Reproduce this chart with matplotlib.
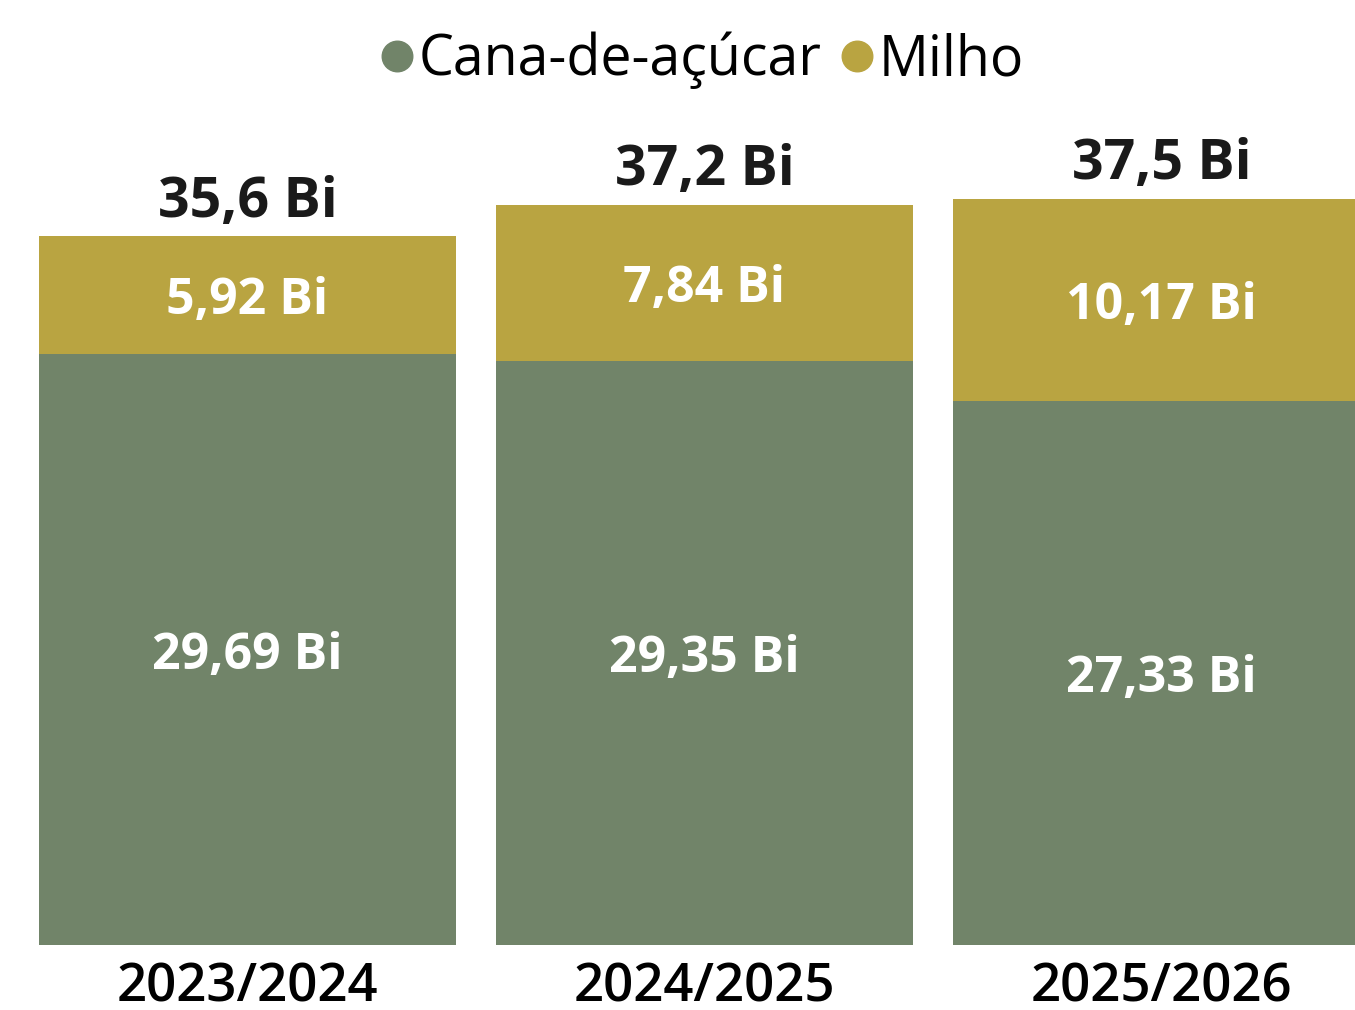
import numpy as np
import matplotlib.pyplot as plt
from matplotlib.lines import Line2D

# Safra data (bilhões de litros)
safras = ['2023/2024', '2024/2025', '2025/2026']
cana = [29.69, 29.35, 27.33]
milho = [5.92, 7.84, 10.17]
totais = [35.6, 37.2, 37.5]

cor_cana = '#718469'
cor_milho = '#B9A441'

plt.rcParams['font.family'] = ['Open Sans', 'DejaVu Sans']

def fmt(v, casas):
    return f'{v:.{casas}f}'.replace('.', ',') + ' Bi'

fig = plt.figure(figsize=(13.55, 10.10), dpi=100)
ax = fig.add_axes([0, 0.0644, 1, 0.9356])

x = np.arange(len(safras))
largura = 0.9125
ax.bar(x, cana, width=largura, color=cor_cana)
ax.bar(x, milho, width=largura, bottom=cana, color=cor_milho)

# value labels
for i in range(len(safras)):
    ax.text(x[i], cana[i] / 2 - 0.3, fmt(cana[i], 2), ha='center', va='center',
            color='white', fontsize=36, fontweight='bold')
    ax.text(x[i], cana[i] + milho[i] / 2 - 0.3, fmt(milho[i], 2), ha='center', va='center',
            color='white', fontsize=36, fontweight='bold')
    ax.text(x[i], totais[i] + 1.7, fmt(totais[i], 1), ha='center', va='center',
            color='#1a1a1a', fontsize=40, fontweight='bold')

ax.set_xlim(-0.5416, 2.4234)
ax.set_ylim(0, 47.49)
ax.set_xticks(x)
ax.set_xticklabels(safras, fontsize=38, fontweight='semibold')
ax.tick_params(axis='x', length=0, pad=12)
ax.set_yticks([])
for s in ax.spines.values():
    s.set_visible(False)

handles = [Line2D([], [], marker='o', linestyle='none', markersize=22, color=cor_cana),
           Line2D([], [], marker='o', linestyle='none', markersize=22, color=cor_milho)]
fig.legend(handles, ['Cana-de-açúcar', 'Milho'], loc='center', bbox_to_anchor=(0.514, 0.94),
           ncol=2, frameon=False, prop={'size': 40},
           handletextpad=-0.1, columnspacing=0.13, handlelength=1.0)

fig.savefig('out.png', dpi=100)
